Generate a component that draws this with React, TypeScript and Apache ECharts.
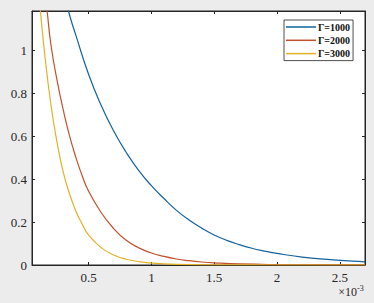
import React, { useEffect, useRef } from "react";
import * as echarts from "echarts";

// x values in units of 1e-3
const seriesNames = ["Γ=1000", "Γ=2000", "Γ=3000"];
const seriesColors = ["#13639e", "#c2512b", "#e2b224"];

const xBlue = [0.30, 0.34, 0.40, 0.50, 0.60, 0.70, 0.80, 0.90, 1.00, 1.10, 1.20, 1.30, 1.40, 1.50, 1.60, 1.70, 1.80, 1.90, 2.00, 2.20, 2.40, 2.60, 2.70];
const yBlue = [1.29, 1.185, 1.07, 0.89, 0.745, 0.625, 0.525, 0.44, 0.37, 0.31, 0.255, 0.21, 0.172, 0.14, 0.115, 0.095, 0.078, 0.065, 0.054, 0.037, 0.026, 0.018, 0.015];

const xRed = [0.15, 0.17, 0.20, 0.25, 0.30, 0.35, 0.40, 0.45, 0.50, 0.60, 0.70, 0.80, 0.90, 1.00, 1.10, 1.20, 1.30, 1.40, 1.50, 1.70, 2.00, 2.40, 2.70];
const yRed = [1.27, 1.185, 1.03, 0.86, 0.72, 0.60, 0.50, 0.415, 0.345, 0.245, 0.17, 0.115, 0.08, 0.056, 0.04, 0.028, 0.02, 0.014, 0.01, 0.005, 0.002, 0.0007, 0.0003];

const xYellow = [0.10, 0.117, 0.15, 0.20, 0.25, 0.30, 0.35, 0.40, 0.45, 0.50, 0.60, 0.70, 0.80, 0.90, 1.00, 1.20, 1.50, 2.00, 2.70];
const yYellow = [1.31, 1.185, 0.99, 0.75, 0.57, 0.43, 0.33, 0.25, 0.19, 0.14, 0.081, 0.047, 0.027, 0.016, 0.009, 0.003, 0.0006, 0.0001, 0];

const xTicks = [0.5, 1, 1.5, 2, 2.5];
const yTicks = [0, 0.2, 0.4, 0.6, 0.8, 1];
const xMin = 0.05;
const xMax = 2.7;
const yMin = 0;
const yMax = 1.185;

const zip = (xs: number[], ys: number[]) => xs.map((x, i) => [x, ys[i]]);

const AXIS_COLOR = "#262626";
const FONT = "'Liberation Serif', 'Times New Roman', serif";

export default function App() {
  const ref = useRef<HTMLDivElement>(null);

  useEffect(() => {
    if (!ref.current) return;
    const chart = echarts.init(ref.current, null, { renderer: "svg" });
    const mkX = (pos: "bottom" | "top", labels: boolean) => ({
      type: "value",
      position: pos,
      min: xMin,
      max: xMax,
      axisLine: { show: true, onZero: false, lineStyle: { color: AXIS_COLOR, width: 1 } },
      axisTick: { show: true, inside: true, length: 3, customValues: xTicks, lineStyle: { color: AXIS_COLOR } },
      axisLabel: {
        show: labels,
        customValues: xTicks,
        color: AXIS_COLOR,
        fontFamily: FONT,
        fontSize: 13,
        margin: 6,
      },
      splitLine: { show: false },
    });
    const mkY = (pos: "left" | "right", labels: boolean) => ({
      type: "value",
      position: pos,
      min: yMin,
      max: yMax,
      axisLine: { show: true, onZero: false, lineStyle: { color: AXIS_COLOR, width: 1 } },
      axisTick: { show: true, inside: true, length: 3, customValues: yTicks, lineStyle: { color: AXIS_COLOR } },
      axisLabel: {
        show: labels,
        customValues: yTicks,
        color: AXIS_COLOR,
        fontFamily: FONT,
        fontSize: 13,
        margin: 5,
      },
      splitLine: { show: false },
    });
    const data = [zip(xBlue, yBlue), zip(xRed, yRed), zip(xYellow, yYellow)];
    chart.setOption({
      animation: false,
      backgroundColor: "#ececec",
      grid: {
        left: 32,
        top: 11,
        right: 9,
        bottom: 38,
        show: true,
        backgroundColor: "#ffffff",
        borderColor: AXIS_COLOR,
        borderWidth: 1,
        containLabel: false,
      },
      xAxis: [mkX("bottom", true), mkX("top", false)],
      yAxis: [mkY("left", true), mkY("right", false)],
      legend: {
        orient: "vertical",
        left: 284,
        top: 20,
        padding: [1, 3, 1, 2],
        itemGap: 1.3,
        itemWidth: 30,
        itemHeight: 1.5,
        icon: "rect",
        backgroundColor: "#ffffff",
        borderColor: "#222",
        borderWidth: 0.8,
        borderRadius: 0,
        data: seriesNames,
        textStyle: {
          fontFamily: FONT,
          fontWeight: "bold",
          fontSize: 10,
          lineHeight: 12,
          color: "#111",
          padding: [0, 0, 0, -3],
        },
      },
      series: seriesNames.map((name, i) => ({
        name,
        type: "line",
        xAxisIndex: 0,
        yAxisIndex: 0,
        data: data[i],
        showSymbol: false,
        smooth: 0.5,
        clip: true,
        lineStyle: { color: seriesColors[i], width: 1.2 },
        itemStyle: { color: seriesColors[i] },
      })),
      graphic: [
        {
          type: "text",
          right: 17,
          top: 286,
          style: { text: "×10", fontFamily: FONT, fontSize: 12, fill: AXIS_COLOR },
        },
        {
          type: "text",
          left: 357,
          top: 284,
          style: { text: "-3", fontFamily: FONT, fontSize: 8, fill: AXIS_COLOR },
        },
      ],
    });
    return () => chart.dispose();
  }, []);

  return (
    <div
      ref={ref}
      style={{ position: "fixed", left: 0, top: 0, width: 374, height: 303 }}
    />
  );
}
